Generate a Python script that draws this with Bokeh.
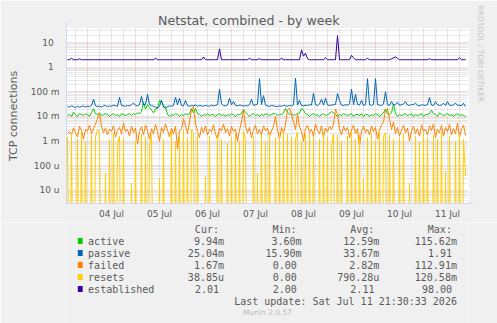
import math
from bokeh.plotting import figure
from bokeh.layouts import column
from bokeh.models import Range1d, FixedTicker, Title, Arrow, NormalHead
from bokeh.core.properties import value
from bokeh.embed import file_html
from bokeh.resources import INLINE

# hours relative to 04 Jul 00:00
hours = list(range(-10, 190))

active_m = [
    11, 12, 10, 15, 12, 10, 13, 12, 11, 13,
    12, 10, 14, 21, 13, 12, 14, 11, 12, 13,
    12, 10, 12, 13, 11, 12, 10, 13, 12, 11,
    12, 13, 11, 13, 12, 14, 13, 16, 38, 20,
    30, 24, 18, 14, 20, 22, 45, 40, 28, 25,
    12, 10, 12, 11, 13, 12, 10, 12, 11, 13,
    12, 13, 21, 14, 21, 13, 12, 10, 12, 11,
    13, 11, 12, 12, 10, 12, 13, 11, 12, 10,
    12, 11, 13, 12, 10, 12, 12, 13, 19, 15,
    12, 10, 12, 13, 11, 12, 10, 12, 11, 13,
    12, 11, 12, 13, 13, 11, 12, 12, 14, 21,
    15, 12, 13, 11, 12, 13, 14, 21, 18, 13,
    12, 10, 12, 13, 11, 12, 10, 12, 13, 11,
    12, 13, 16, 14, 12, 10, 12, 11, 13, 12,
    11, 12, 13, 10, 12, 12, 11, 13, 10, 12,
    12, 10, 12, 11, 13, 12, 10, 12, 14, 20,
    13, 12, 14, 32, 13, 10, 12, 11, 12, 13,
    11, 12, 13, 10, 12, 11, 12, 13, 10, 12,
    12, 13, 18, 13, 12, 10, 14, 12, 11, 12,
    13, 11, 12, 10, 12, 13, 11, 12, 11, 9.94,
]

passive_m = [
    25, 24, 27, 25, 23, 26, 24, 25, 27, 24,
    26, 25, 28, 50, 27, 25, 26, 24, 27, 28,
    25, 27, 26, 29, 27, 26, 60, 28, 27, 26,
    28, 27, 30, 35, 28, 27, 30, 65, 29, 31,
    80, 30, 28, 26, 24, 22, 26, 45, 24, 22,
    25, 27, 26, 28, 60, 30, 55, 28, 27, 45,
    27, 26, 28, 27, 29, 26, 28, 27, 26, 28,
    27, 26, 29, 27, 28, 30, 130, 32, 28, 27,
    29, 55, 30, 40, 28, 27, 29, 28, 26, 28,
    27, 30, 50, 28, 30, 32, 340, 30, 70, 29,
    27, 26, 28, 27, 26, 25, 27, 26, 28, 27,
    26, 28, 27, 30, 360, 29, 45, 28, 27, 29,
    28, 30, 29, 88, 30, 28, 32, 50, 29, 55,
    30, 28, 29, 30, 31, 85, 45, 29, 28, 30,
    29, 32, 130, 30, 80, 31, 29, 45, 28, 30,
    340, 30, 28, 31, 340, 30, 29, 28, 32, 100,
    30, 28, 40, 29, 31, 38, 28, 30, 32, 40,
    29, 28, 31, 30, 35, 28, 27, 30, 29, 28,
    30, 59, 29, 28, 40, 30, 28, 29, 35, 28,
    40, 29, 28, 30, 35, 28, 29, 27, 35, 25.04,
]

failed_m = [
    2.0, 2.5, 1.8, 3.5, 2.2, 1.5, 4.0, 2.8, 1.2, 3.0,
    2.5, 4.5, 2.0, 3.2, 5.0, 8.0, 14, 4.0, 2.2, 3.5,
    1.8, 3.0, 2.5, 4.2, 1.5, 2.8, 3.6, 2.0, 5.5, 2.4,
    3.0, 1.6, 4.0, 2.2, 3.4, 0.8, 2.5, 3.8, 1.8, 4.5,
    2.6, 1.2, 3.2, 2.0, 4.8, 2.4, 1.0, 3.6, 2.2, 5.0,
    2.8, 1.5, 3.4, 2.0, 4.0, 0.5, 2.6, 3.2, 8.0, 4.5,
    2.0, 6.0, 20, 25, 5.0, 2.5, 1.4, 3.6, 2.2, 4.2,
    1.8, 3.0, 2.4, 4.6, 2.0, 1.2, 3.4, 2.6, 5.0, 2.2,
    3.2, 1.6, 4.0, 2.4, 3.0, 1.0, 2.8, 6.0, 19, 4.0,
    2.2, 3.6, 1.4, 2.8, 4.4, 2.0, 3.0, 1.8, 4.2, 2.6,
    3.4, 1.6, 2.6, 4.0, 10, 3.0, 1.2, 3.6, 2.0, 5.0,
    18, 22, 12, 6.0, 3.0, 12, 4.0, 2.4, 1.0, 3.2,
    4.4, 2.2, 3.0, 1.6, 5.0, 2.8, 2.0, 4.2, 1.4, 3.4,
    2.4, 4.0, 3.0, 5.0, 20, 12, 3.2, 1.8, 4.0, 2.6,
    3.6, 1.4, 2.8, 4.4, 2.0, 3.2, 0.6, 2.6, 4.0, 2.2,
    3.0, 1.8, 4.2, 2.4, 3.6, 1.2, 2.8, 4.6, 6.0, 18,
    21, 8.0, 3.0, 6.0, 2.0, 3.6, 1.6, 2.8, 4.4, 2.2,
    3.4, 1.0, 2.6, 4.0, 2.0, 3.2, 1.6, 4.6, 2.4, 3.0,
    1.8, 4.2, 2.6, 5.0, 1.4, 3.0, 2.2, 4.4, 1.6, 3.6,
    2.4, 4.8, 1.8, 3.2, 2.0, 5.5, 1.4, 3.0, 4.5, 1.67,
]

resets_m = [
    1.5, 0, 2.0, 0, 0, 1.2, 0, 2.5, 0, 1.0,
    0, 0, 1.8, 0, 1.5, 3.0, 2.0, 0, 0, 0.05,
    0, 1.2, 0, 2.2, 0, 0.8, 1.6, 0, 1.4, 0,
    0, 0, 0.02, 0, 1.0, 0, 0, 2.0, 0, 1.5,
    0, 0.6, 1.8, 0, 0, 0, 0.03, 0, 1.2, 0,
    0, 0, 2.4, 0, 1.0, 0, 1.6, 0, 2.8, 0,
    1.4, 0, 3.0, 2.2, 0, 1.8, 0, 0, 0, 0.04,
    0, 1.6, 0, 0, 0, 2.0, 0, 1.2, 0, 0,
    0.8, 0, 1.4, 0, 2.0, 0, 1.0, 0, 2.5, 1.2,
    0, 0, 0, 1.6, 0, 0.05, 0, 1.8, 0, 1.0,
    0, 2.2, 0, 0, 1.4, 0, 1.8, 0, 2.6, 0,
    2.0, 0, 1.5, 0, 1.2, 2.4, 0, 1.0, 0, 1.8,
    0, 2.0, 0, 1.6, 0, 0, 1.2, 0, 2.2, 0,
    1.4, 0, 0.6, 2.0, 0, 1.8, 0, 1.0, 0, 0,
    1.6, 0, 2.4, 0, 1.2, 0, 1.8, 0, 0.03, 0,
    1.4, 0, 2.0, 0, 1.0, 0, 2.6, 0, 1.6, 2.2,
    0, 1.8, 0, 1.2, 0, 0, 1.4, 0, 2.0, 0,
    0, 0.02, 0, 0, 1.6, 0, 1.0, 0, 2.2, 0,
    1.4, 0, 0, 1.8, 0, 1.2, 0, 2.4, 0, 0.06,
    0, 1.6, 0, 0, 1.0, 0, 2.0, 0, 1.2, 0.03885,
]

established = [
    2.0, 2.0, 2.3, 2.0, 2.0, 2.0, 2.2, 2.0, 2.0, 2.0,
    2.0, 2.0, 2.0, 2.0, 2.0, 2.0, 2.0, 2.0, 2.0, 2.0,
    2.0, 2.0, 2.0, 2.0, 2.0, 2.0, 2.0, 2.0, 2.0, 2.0,
    2.0, 2.0, 2.0, 2.0, 2.0, 2.0, 2.0, 2.0, 2.0, 2.0,
    2.0, 2.0, 2.0, 2.0, 2.3, 2.0, 2.0, 2.0, 2.0, 2.0,
    2.0, 2.0, 2.0, 2.0, 2.0, 2.0, 2.0, 2.0, 2.0, 2.0,
    2.0, 2.0, 2.0, 2.0, 2.0, 2.0, 2.0, 2.0, 2.6, 2.0,
    2.0, 2.0, 2.0, 2.0, 2.0, 2.0, 5.5, 2.0, 2.0, 2.0,
    2.0, 2.0, 2.0, 2.0, 2.0, 2.0, 2.0, 2.0, 2.0, 2.0,
    2.0, 2.3, 2.0, 2.0, 2.0, 2.0, 2.2, 2.0, 2.0, 2.0,
    2.0, 2.0, 2.0, 2.0, 2.0, 2.0, 2.0, 2.3, 2.0, 2.0,
    2.0, 2.0, 2.0, 2.0, 2.0, 2.0, 2.0, 5.0, 2.8, 3.7,
    2.2, 2.0, 2.0, 2.0, 2.0, 2.0, 2.0, 2.0, 2.0, 2.4,
    2.0, 2.0, 2.0, 2.0, 2.0, 19.0, 2.0, 2.0, 2.0, 2.0,
    2.0, 2.0, 3.0, 2.4, 2.0, 2.0, 2.0, 2.0, 2.0, 2.0,
    2.3, 2.0, 2.0, 2.0, 2.0, 2.0, 2.0, 2.0, 2.0, 2.0,
    2.0, 2.0, 2.2, 2.4, 2.6, 2.3, 2.0, 2.0, 2.0, 2.0,
    2.0, 2.0, 2.0, 2.0, 2.0, 2.0, 2.0, 2.0, 2.0, 2.0,
    2.0, 2.2, 2.0, 2.0, 2.0, 2.0, 2.0, 2.0, 2.0, 2.0,
    2.0, 2.0, 2.0, 2.0, 2.0, 2.0, 2.4, 2.0, 2.0, 2.01,
]

day_labels = ["04 Jul", "05 Jul", "06 Jul", "07 Jul", "08 Jul", "09 Jul", "10 Jul", "11 Jul"]
y_tick_values = [1e-5, 1e-4, 1e-3, 1e-2, 1e-1, 1.0, 10.0]
y_tick_labels = ["10 u", "100 u", "1 m", "10 m", "100 m", "1\u00a0\u00a0", "10\u00a0\u00a0"]

legend_names = ["active", "passive", "failed", "resets", "established"]
legend_colors = ["#00CC00", "#0066B3", "#FF8000", "#FFCC00", "#330099"]
cur_txt = ["9.94m", "25.04m", "1.67m", "38.85u", "2.01"]
min_txt = ["3.60m", "15.90m", "0.00", "0.00", "2.00"]
avg_txt = ["12.59m", "33.67m", "2.82m", "790.28u", "2.11"]
max_txt = ["115.62m", "1.91", "112.91m", "120.58m", "98.00"]
last_update = "Last update: Sat Jul 11 21:30:33 2026"
title_text = "Netstat, combined - by week"
watermark = "RRDTOOL / TOBI OETIKER"
munin_text = "Munin 2.0.57"

FLOOR = 1e-12
FG = "#5A5A5A"
BG = "#F0F0F0"
AXIS = "#CFD6F8"
X0R, X1R = -10.5, 190.5
Y0R, Y1R = 2.97e-6, 36.96


def scaled(vals, k):
    return [v * k if v > 0 else FLOOR for v in vals]


H1 = 222
p = figure(width=497, height=H1, output_backend="svg", toolbar_location=None,
           y_axis_type="log",
           x_range=Range1d(X0R, X1R), y_range=Range1d(Y0R, Y1R),
           min_border_left=66, min_border_right=29, min_border_top=28,
           min_border_bottom=H1 - 203,
           background_fill_color="white", border_fill_color=BG,
           outline_line_color=None)

# title (centred on the canvas) and watermark
p.add_layout(Title(text=title_text, align="left", offset=91.5, standoff=2,
                   text_font="DejaVu Sans", text_font_size="12.6px",
                   text_font_style="normal", text_color=FG), "above")
p.add_layout(Title(text=watermark, align="left", offset=-23, standoff=14,
                   text_font="DejaVu Sans", text_font_size="7.5px",
                   text_font_style="normal", text_color="#C4C4C4"), "right")

# axes
p.yaxis.ticker = FixedTicker(ticks=y_tick_values,
                             minor_ticks=[m * 10.0 ** k for k in range(-6, 2) for m in range(2, 10)])
p.yaxis.major_label_overrides = dict(zip(y_tick_values, y_tick_labels))
p.xaxis.ticker = FixedTicker(ticks=[12 + 24 * k for k in range(len(day_labels))])
p.xaxis.major_label_overrides = {12 + 24 * k: lab for k, lab in enumerate(day_labels)}
for ax in (p.xaxis[0], p.yaxis[0]):
    ax.axis_line_color = AXIS
    ax.major_tick_line_color = None
    ax.minor_tick_line_color = None
    ax.major_tick_out = 0
    ax.major_tick_in = 0
    ax.minor_tick_out = 0
    ax.minor_tick_in = 0
    ax.major_label_text_color = FG
    ax.major_label_text_font = "DejaVu Sans"
    ax.major_label_text_font_size = "9px"
p.yaxis.major_label_standoff = 7
p.xaxis.major_label_standoff = 5
p.yaxis.axis_label = "TCP connections"
p.yaxis.axis_label_text_font = "DejaVu Sans"
p.yaxis.axis_label_text_font_size = "11px"
p.yaxis.axis_label_text_font_style = "normal"
p.yaxis.axis_label_text_color = FG
p.yaxis.axis_label_standoff = 8

# grids
p.xgrid.ticker = FixedTicker(ticks=[24 * k for k in range(8)],
                             minor_ticks=[6 * k for k in range(-1, 32) if k % 4 != 0])
for g in (p.xgrid[0], p.ygrid[0]):
    g.grid_line_color = "#E89A9A"
    g.grid_line_alpha = 0.7
    g.grid_line_dash = "1 1"
    g.minor_grid_line_color = "#BDBDBD"
    g.minor_grid_line_alpha = 0.7
    g.minor_grid_line_dash = "1 1"

# series
p.line(hours, scaled(active_m, 1e-3), line_color=legend_colors[0], line_width=1)
p.line(hours, scaled(passive_m, 1e-3), line_color=legend_colors[1], line_width=1)
p.line(hours, scaled(failed_m, 1e-3), line_color=legend_colors[2], line_width=1)
p.line(hours, scaled(resets_m, 1e-3), line_color=legend_colors[3], line_width=1)
p.line(hours, scaled(established, 1.0), line_color=legend_colors[4], line_width=1)

# axis arrows (rrdtool style), just past the ends of both axes
p.add_layout(Arrow(x_start=X0R, y_start=Y1R, x_end=X0R, y_end=Y1R * 10 ** (6.5 / 24.667),
                   line_color=AXIS, line_width=1,
                   end=NormalHead(size=5, fill_color=AXIS, line_color=AXIS)))
p.add_layout(Arrow(x_start=X1R, y_start=Y0R, x_end=X1R + 2.5, y_end=Y0R,
                   line_color=AXIS, line_width=1,
                   end=NormalHead(size=5, fill_color=AXIS, line_color=AXIS)))

# legend panel (frame covers the whole panel, pixel-like coordinates, y down)
H2 = 323 - H1
q = figure(width=497, height=H2, output_backend="svg", toolbar_location=None,
           x_range=Range1d(0, 497), y_range=Range1d(H2, 0),
           x_axis_location=None, y_axis_location=None,
           min_border_left=0, min_border_right=0, min_border_top=0, min_border_bottom=0,
           background_fill_color=BG, border_fill_color=BG, outline_line_color=None)
q.grid.visible = False

X0 = 26.7
CW = 6.0
Y0 = 228.5 - H1
ROW = 12.0

mono = dict(text_font=value("DejaVu Sans Mono"), text_font_size="10px",
            text_color=FG, text_baseline="middle")

q.text(x=[X0 + c * CW for c in (22, 38, 54, 70)], y=[Y0] * 4,
       text=["Cur:", "Min:", "Avg:", "Max:"], text_align="left", **mono)

row_y = [Y0 + ROW * (i + 1) for i in range(len(legend_names))]
q.rect(x=[17] * len(legend_names), y=row_y, width=6, height=6,
       fill_color=legend_colors, line_color=None)
q.text(x=[X0] * len(legend_names), y=row_y, text=legend_names, text_align="left", **mono)

vx, vy, vt = [], [], []
for i in range(len(legend_names)):
    for col_end, txt in ((28, cur_txt[i]), (44, min_txt[i]), (60, avg_txt[i]), (76, max_txt[i])):
        edge = X0 + col_end * CW
        if txt[-1].isdigit():
            edge -= CW
        vx.append(edge)
        vy.append(row_y[i])
        vt.append(txt)
q.text(x=vx, y=vy, text=vt, text_align="right", **mono)
q.text(x=[X0 + 76 * CW], y=[Y0 + ROW * 6], text=[last_update], text_align="right", **mono)
q.text(x=[248.5], y=[312 - H1], text=[munin_text], text_align="center",
       text_baseline="middle", text_font=value("DejaVu Sans"), text_font_size="7.5px",
       text_color="#BBBBBB")

layout = column(p, q, spacing=0)
open("out.html", "w").write(file_html(layout, INLINE))
